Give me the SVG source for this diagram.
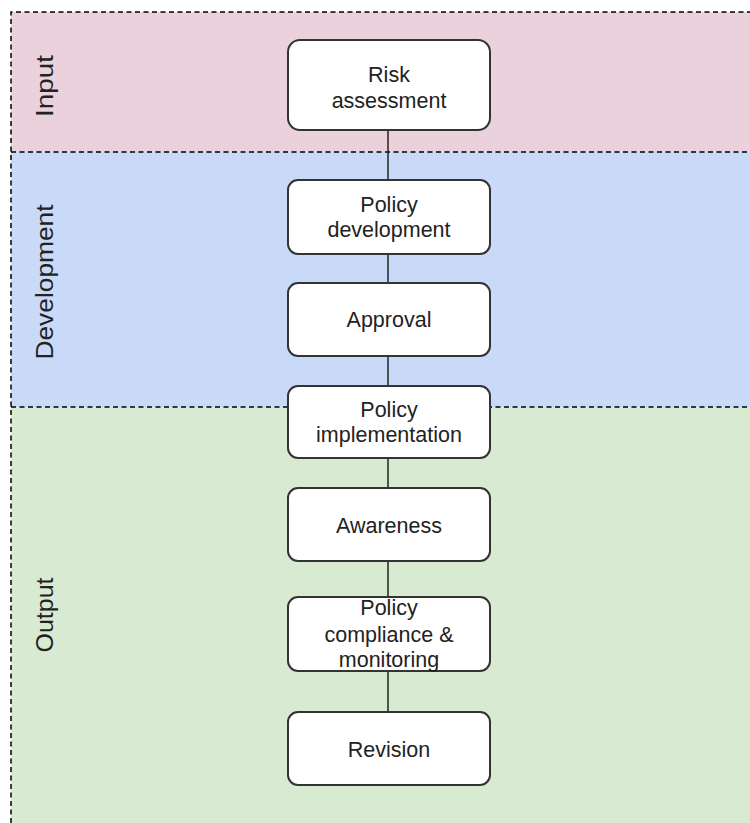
<svg xmlns="http://www.w3.org/2000/svg" width="750" height="823" viewBox="0 0 750 823">
  <style>
    .lane-border { fill: none; stroke: #000; stroke-width: 1.5; stroke-dasharray: 5 3.5; }
    .lane-label { font-family: "Liberation Sans", Arial, sans-serif; font-size: 23px; fill: #222; text-anchor: middle; }
    .box { fill: #fff; stroke: #333; stroke-width: 2; }
    .label { font-family: "Liberation Sans", Arial, sans-serif; font-size: 21.5px; fill: #222; text-anchor: middle; }
    .link { stroke: #222; stroke-width: 1.5; fill: none; }
  </style>

  <rect width="750" height="823" fill="#fff"/>

  <!-- swimlanes -->
  <g id="lanes">
    <rect x="11" y="12" width="739" height="140" fill="#ead1dc"/>
    <rect x="11" y="152" width="739" height="255" fill="#c9daf8"/>
    <rect x="11" y="407" width="739" height="416" fill="#d9ead3"/>
    <path class="lane-border" d="M11 823 V12 H750 M11 152 H750 M11 407 H750"/>
    <text class="lane-label" transform="translate(53 86) rotate(-90)" textLength="62" lengthAdjust="spacingAndGlyphs">Input</text>
    <text class="lane-label" transform="translate(53 282) rotate(-90)" textLength="155" lengthAdjust="spacingAndGlyphs">Development</text>
    <text class="lane-label" transform="translate(53 615) rotate(-90)" textLength="75" lengthAdjust="spacingAndGlyphs">Output</text>
  </g>

  <!-- connectors -->
  <g id="connectors">
    <line class="link" x1="388" y1="130" x2="388" y2="180"/>
    <line class="link" x1="388" y1="254" x2="388" y2="283"/>
    <line class="link" x1="388" y1="356" x2="388" y2="386"/>
    <line class="link" x1="388" y1="458" x2="388" y2="488"/>
    <line class="link" x1="388" y1="561" x2="388" y2="597"/>
    <line class="link" x1="388" y1="671" x2="388" y2="712"/>
  </g>

  <g id="risk-assessment">
    <rect class="box" x="288" y="40" width="202" height="90" rx="12"/>
    <text class="label" x="389" y="82">Risk</text>
    <text class="label" x="389" y="108">assessment</text>
  </g>

  <g id="policy-development">
    <rect class="box" x="288" y="180" width="202" height="74" rx="10"/>
    <text class="label" x="389" y="212">Policy</text>
    <text class="label" x="389" y="237">development</text>
  </g>

  <g id="approval">
    <rect class="box" x="288" y="283" width="202" height="73" rx="10"/>
    <text class="label" x="389" y="327">Approval</text>
  </g>

  <g id="policy-implementation">
    <rect class="box" x="288" y="386" width="202" height="72" rx="10"/>
    <text class="label" x="389" y="417">Policy</text>
    <text class="label" x="389" y="442">implementation</text>
  </g>

  <g id="awareness">
    <rect class="box" x="288" y="488" width="202" height="73" rx="10"/>
    <text class="label" x="389" y="533">Awareness</text>
  </g>

  <g id="policy-compliance-monitoring">
    <rect class="box" x="288" y="597" width="202" height="74" rx="10"/>
    <text class="label" x="389" y="615">Policy</text>
    <text class="label" x="389" y="642">compliance &amp;</text>
    <text class="label" x="389" y="667">monitoring</text>
  </g>

  <g id="revision">
    <rect class="box" x="288" y="712" width="202" height="73" rx="10"/>
    <text class="label" x="389" y="757">Revision</text>
  </g>
</svg>
